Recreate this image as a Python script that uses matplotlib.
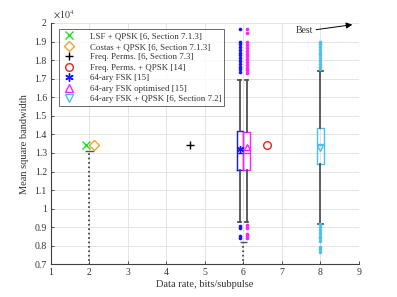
import matplotlib.pyplot as plt
from matplotlib.ticker import FuncFormatter
from matplotlib.lines import Line2D

plt.rcParams['font.family'] = ['Liberation Serif', 'DejaVu Serif']
plt.rcParams['mathtext.fontset'] = 'stix'

# ---- data (mean square bandwidth, raw units) ----
point_labels = ['LSF + QPSK [6, Section 7.1.3]',
                'Costas + QPSK [6, Section 7.1.3]',
                'Freq. Perms. [6, Section 7.3]',
                'Freq. Perms. + QPSK [14]']
point_x = [1.91, 2.12, 4.62, 6.62]
point_y = [13450, 13450, 13450, 13450]

box_labels = ['64-ary FSK [15]', '64-ary FSK optimised [15]',
              '64-ary FSK + QPSK [6, Section 7.2]']
box_x = [5.90, 6.08, 8.0]
box_q1 = [12100, 12100, 12390]
box_med = [13020, 13000, 13460]
box_q3 = [14180, 14150, 14350]
box_whislo = [9270, 9270, 9180]
box_whishi = [16920, 16920, 17420]
box_mean = [13230, 13320, 13280]
fliers_blue = [17360, 17500, 17650, 17800, 17950, 18100, 18250, 18400,
               18550, 18700, 18850, 19000, 19650,
               9090, 8950, 8500, 8400]
fliers_magenta = [17300, 17450, 17600, 17750, 17900, 18050, 18200,
                  18350, 18500, 18650, 18800, 18950, 19480, 19660,
                  9100, 8950, 8640, 8520, 8400]
fliers_cyan = [17500, 17650, 17800, 17950, 18100, 18250, 18400,
               18550, 18700, 18850, 19000,
               9150, 9000, 8850, 8700, 8550, 8400, 8250,
               7950, 7800, 7650]
box_fliers = [fliers_blue, fliers_magenta, fliers_cyan]

dotted_x = [2.0, 6.0]
dotted_top = [13120, 8200]
dotted_bottom = [6000, 6000]

xticks = [1, 2, 3, 4, 5, 6, 7, 8, 9]
yticks = [7000 + 1000 * i for i in range(14)]

point_style = [dict(marker='x', color='#22dd22', mfc='none'),
               dict(marker='D', color='#f5a030', mfc='none'),
               dict(marker='+', color='black', mfc='none'),
               dict(marker='o', color='#ee2020', mfc='none')]
box_colors = ['#1414ff', '#ff20ff', '#4fbfee']
box_markers = [(6, 2, 0), '^', 'v']
box_widths = [0.16, 0.17, 0.2]

fig = plt.figure(figsize=(3.97, 2.97), dpi=100)
ax = fig.add_axes([0.1285, 0.110, 0.7755, 0.8126])
txtc = '#333333'

ax.set_xlim(1, 9)
ax.set_ylim(7000, 20000)
ax.set_xticks(xticks)
ax.set_yticks(yticks)
ax.yaxis.set_major_formatter(FuncFormatter(lambda v, p: f'{v/1e4:g}'))
ax.grid(True, color='#e4e4e4', linewidth=0.7)
ax.set_axisbelow(True)
for s in ['top', 'right']:
    ax.spines[s].set_visible(False)
for s in ['left', 'bottom']:
    ax.spines[s].set_color('#404040')
    ax.spines[s].set_linewidth(0.8)
ax.tick_params(direction='in', length=2.5, width=0.6, labelsize=7,
               colors=txtc, pad=3)

# dotted whisker-only elements
for xv, top, bot, cw in zip(dotted_x, dotted_top, dotted_bottom, [0.22, 0.17]):
    ax.vlines(xv, bot, top, colors='#333333', linestyles=':', linewidth=1.2, zorder=2)
    ax.hlines(top, xv - cw / 2, xv + cw / 2, colors='#555555', linewidth=1.0, zorder=2)

# boxplots
for i in range(3):
    st = dict(med=box_med[i], q1=box_q1[i], q3=box_q3[i],
              whislo=box_whislo[i], whishi=box_whishi[i],
              fliers=box_fliers[i], mean=box_mean[i])
    c = box_colors[i]
    ax.bxp([st], positions=[box_x[i]], widths=box_widths[i],
           capwidths=box_widths[i] * 0.55, showfliers=True, showmeans=False,
           manage_ticks=False,
           boxprops=dict(color=c, linewidth=1.0),
           medianprops=dict(color=c, linewidth=1.0),
           whiskerprops=dict(color='#505050', linewidth=1.3),
           capprops=dict(color='#505050', linewidth=1.3),
           flierprops=dict(marker='o', markersize=1.6, markerfacecolor=c,
                           markeredgecolor=c, linestyle='none'))

handles = []
for i in range(4):
    ps = point_style[i]
    ax.plot(point_x[i], point_y[i], linestyle='none', marker=ps['marker'],
            color=ps['color'], mfc=ps['mfc'], markersize=5.5, mew=1.0, zorder=4)
    handles.append(Line2D([], [], linestyle='none', marker=ps['marker'],
                          color=ps['color'], mfc=ps['mfc'], markersize=5.5, mew=1.0))
for i in range(3):
    ax.plot(box_x[i], box_mean[i], linestyle='none', marker=box_markers[i],
            color=box_colors[i], mfc='none', markersize=5, mew=1.0, zorder=4)
    handles.append(Line2D([], [], linestyle='none', marker=box_markers[i],
                          color=box_colors[i], mfc='none', markersize=6, mew=1.0))

leg = ax.legend(handles, point_labels + box_labels, loc='upper left',
                bbox_to_anchor=(0.026, 0.974), borderaxespad=0, fontsize=6.4,
                frameon=True, fancybox=False, edgecolor='#444444',
                handlelength=1.5, handletextpad=1.6, borderpad=0.35,
                labelspacing=0.25, labelcolor=txtc)
leg.get_frame().set_linewidth(0.7)

ax.set_xlabel('Data rate, bits/subpulse', fontsize=7.5, color=txtc, labelpad=2)
ax.set_ylabel('Mean square bandwidth', fontsize=7.5, color=txtc, labelpad=4)
ax.text(0.005, 1.01, r'$\times10^4$', transform=ax.transAxes, fontsize=7,
        color=txtc, va='bottom', ha='left')

ax.annotate('', xy=(8.9, 19930), xytext=(7.82, 19620),
            arrowprops=dict(arrowstyle='-|>', color='black', lw=0.7,
                            mutation_scale=9))
ax.text(7.82, 19620, 'Best', fontsize=7, color=txtc, ha='right', va='center')

fig.savefig('out.png', dpi=100)
